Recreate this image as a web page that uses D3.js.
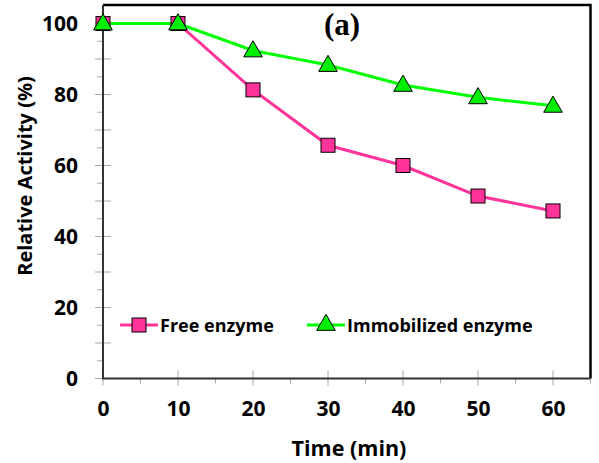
<!DOCTYPE html>
<html lang="en">
<head>
<meta charset="UTF-8">
<title>Relative activity vs time</title>
<style>
body { margin: 0; background: #fff; }
svg { display: block; }
.tick text { font-family: "Open Sans", sans-serif; font-weight: bold; font-size: 21px; fill: #000; }
</style>
</head>
<body>
<svg id="chart" width="599" height="463"></svg>
<script src="https://cdn.jsdelivr.net/npm/d3@7"></script>
<script>
// data
const times = [0, 10, 20, 30, 40, 50, 60];
const freeEnzyme = [100, 100, 81.3, 65.7, 60.0, 51.4, 47.2];
const immobEnzyme = [100, 100, 92.4, 88.3, 82.7, 79.2, 76.8];
const immobErr = [0, 0, 1.2, 1.0, 1.2, 1.3, 1.5];
const xTicks = [0, 10, 20, 30, 40, 50, 60];
const yTicks = [0, 20, 40, 60, 80, 100];

const pink = "#ff3399", green = "#00ff00";
const svg = d3.select("#chart");
const mLeft = 103, mTop = 5, mBottom = 378.5;

const x = d3.scaleLinear().domain([0, 65]).range([mLeft, mLeft + 75 * 6.5]);
const y = d3.scaleLinear().domain([0, 105]).range([mBottom, mBottom - 3.55 * 105]);

// frame: top and right in black
svg.append("path")
  .attr("d", `M${mLeft},${mTop}H${x(65)}V${mBottom}`)
  .attr("fill", "none").attr("stroke", "#000").attr("stroke-width", 2.5);

// minor ticks
const g = svg.append("g");
g.selectAll(".ymin").data(d3.range(5, 105, 10)).enter().append("line")
  .attr("x1", mLeft - 6).attr("x2", mLeft).attr("y1", d => y(d)).attr("y2", d => y(d))
  .attr("stroke", "#aaa").attr("stroke-width", 1);
g.selectAll(".xmin").data(d3.range(5, 70, 10)).enter().append("line")
  .attr("x1", d => x(d)).attr("x2", d => x(d)).attr("y1", mBottom).attr("y2", mBottom + 5)
  .attr("stroke", "#aaa").attr("stroke-width", 1);
// major ticks crossing the axis
g.selectAll(".ymaj").data(d3.range(0, 110, 10)).enter().append("line")
  .attr("x1", mLeft - 8).attr("x2", mLeft + 8).attr("y1", d => y(d)).attr("y2", d => y(d))
  .attr("stroke", "#aaa").attr("stroke-width", 1);
g.selectAll(".xmaj").data(d3.range(0, 70, 10)).enter().append("line")
  .attr("x1", d => x(d)).attr("x2", d => x(d)).attr("y1", mBottom - 8).attr("y2", mBottom + 7)
  .attr("stroke", "#aaa").attr("stroke-width", 1);

// axes (labels only)
const yAxis = svg.append("g").attr("transform", `translate(${mLeft},0)`)
  .call(d3.axisLeft(y).tickValues(yTicks).tickSize(0).tickPadding(25));
yAxis.select(".domain").remove();
const xAxis = svg.append("g").attr("transform", `translate(0,${mBottom})`)
  .call(d3.axisBottom(x).tickValues(xTicks).tickSize(0).tickPadding(23));
xAxis.select(".domain").remove();

// left and bottom axis lines
svg.append("path")
  .attr("d", `M${mLeft},${mTop}V${mBottom}H${x(65)}`)
  .attr("fill", "none").attr("stroke", "#333").attr("stroke-width", 2);

const line = d3.line().x((d, i) => x(times[i])).y(d => y(d));

svg.append("path").datum(freeEnzyme).attr("d", line)
  .attr("fill", "none").attr("stroke", pink).attr("stroke-width", 3);
svg.append("path").datum(immobEnzyme).attr("d", line)
  .attr("fill", "none").attr("stroke", green).attr("stroke-width", 3);

// error bars on immobilized
svg.selectAll(".err").data(immobErr).enter().append("path")
  .attr("d", (e, i) => {
    const cx = x(times[i]), y0 = y(immobEnzyme[i]), y1 = y(immobEnzyme[i] + e);
    return `M${cx},${y0}V${y1}M${cx - 3},${y1}H${cx + 3}`;
  })
  .attr("stroke", "#000").attr("stroke-width", 1).attr("fill", "none");

const sq = 14, tri = d3.symbol().type(d3.symbolTriangle).size(150);

svg.selectAll(".sq").data(freeEnzyme).enter().append("rect")
  .attr("x", (d, i) => x(times[i]) - sq / 2).attr("y", d => y(d) - sq / 2)
  .attr("width", sq).attr("height", sq)
  .attr("fill", pink).attr("stroke", "#000").attr("stroke-width", 1);

svg.selectAll(".tri").data(immobEnzyme).enter().append("path")
  .attr("d", tri)
  .attr("transform", (d, i) => `translate(${x(times[i])},${y(d) + 1})`)
  .attr("fill", "#00ee00").attr("stroke", "#000").attr("stroke-width", 1);

// legend
const leg = svg.append("g").style("font-family", "'Open Sans', sans-serif")
  .style("font-weight", "bold").style("font-size", "18px");
leg.append("line").attr("x1", 120).attr("x2", 158).attr("y1", 325).attr("y2", 325)
  .attr("stroke", pink).attr("stroke-width", 3);
leg.append("rect").attr("x", 132).attr("y", 318).attr("width", sq).attr("height", sq)
  .attr("fill", pink).attr("stroke", "#000");
leg.append("text").attr("x", 160).attr("y", 332).text("Free enzyme");
leg.append("line").attr("x1", 307).attr("x2", 345).attr("y1", 325).attr("y2", 325)
  .attr("stroke", green).attr("stroke-width", 3);
leg.append("path").attr("d", tri).attr("transform", "translate(326,325)")
  .attr("fill", "#00ee00").attr("stroke", "#000");
leg.append("text").attr("x", 347).attr("y", 332).text("Immobilized enzyme");

// titles
svg.append("text").attr("x", 342).attr("y", 35).attr("text-anchor", "middle")
  .style("font-family", "'Liberation Serif', serif").style("font-weight", "bold")
  .style("font-size", "31px").text("(a)");
svg.append("text").attr("x", 349).attr("y", 456).attr("text-anchor", "middle")
  .style("font-family", "'Open Sans', sans-serif").style("font-weight", "bold")
  .style("font-size", "21.5px").text("Time (min)");
svg.append("text").attr("transform", "translate(32,176) rotate(-90)").attr("text-anchor", "middle")
  .style("font-family", "'Open Sans', sans-serif").style("font-weight", "bold")
  .style("font-size", "20px").text("Relative Activity (%)");
</script>
</body>
</html>
